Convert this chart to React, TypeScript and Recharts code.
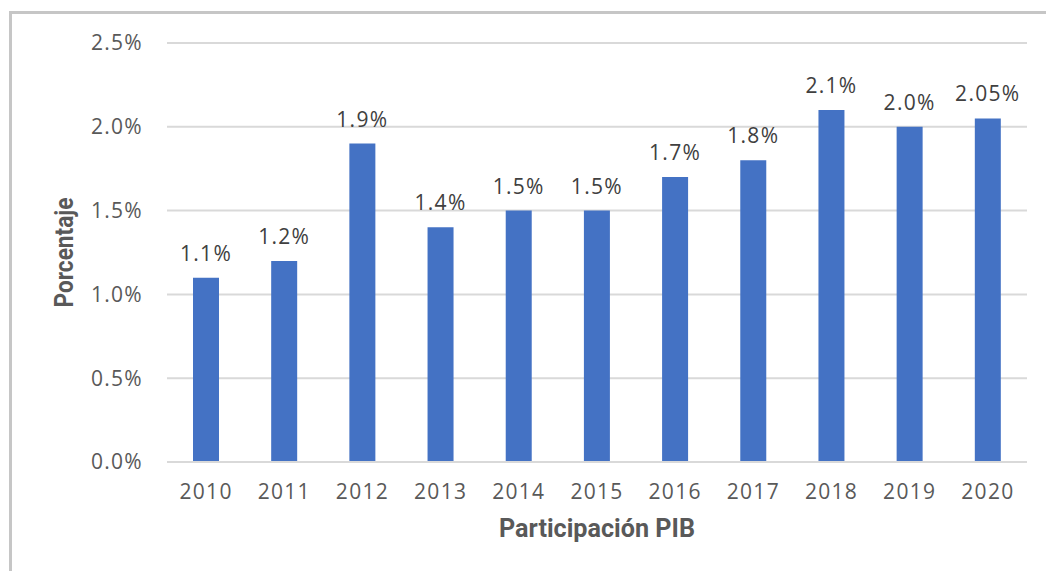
import React from 'react';
import { BarChart, Bar, XAxis, YAxis, CartesianGrid, LabelList, Label } from 'recharts';

const years = ['2010', '2011', '2012', '2013', '2014', '2015', '2016', '2017', '2018', '2019', '2020'];
const shares = [1.1, 1.2, 1.9, 1.4, 1.5, 1.5, 1.7, 1.8, 2.1, 2.0, 2.05];
const shareLabels = ['1.1%', '1.2%', '1.9%', '1.4%', '1.5%', '1.5%', '1.7%', '1.8%', '2.1%', '2.0%', '2.05%'];
const yTicks = [0, 0.5, 1.0, 1.5, 2.0, 2.5];

const data = years.map((year, i) => ({ year, value: shares[i], label: shareLabels[i] }));

const tickFont = { fill: '#595959', fontSize: 21, letterSpacing: 1.3, fontFamily: '"Open Sans", sans-serif' };
const titleFont = { fill: '#595959', fontSize: 26, fontWeight: 700, fontFamily: 'Roboto, sans-serif' };

// condensed bold titles, squeezed to the reference width
const XTitle = (props: any) => {
    const { viewBox } = props;
    const cx = viewBox.x + viewBox.width / 2;
    return (
        <text x={cx} y={537} textAnchor="middle" textLength={196} lengthAdjust="spacingAndGlyphs" style={titleFont}>
            Participación PIB
        </text>
    );
};

const YTitle = (props: any) => {
    const { viewBox } = props;
    const cy = viewBox.y + viewBox.height / 2;
    return (
        <text
            x={73}
            y={cy}
            transform={`rotate(-90, 73, ${cy})`}
            textAnchor="middle"
            textLength={110}
            lengthAdjust="spacingAndGlyphs"
            style={titleFont}
        >
            Porcentaje
        </text>
    );
};

export default function App() {
    return (
        <div style={{ position: 'absolute', left: 0, top: 0, width: 1046, height: 571, background: '#fff' }}>
            <div
                style={{
                    position: 'absolute',
                    left: 9,
                    top: 11,
                    right: 0,
                    bottom: 0,
                    borderTop: '3px solid #c6c6c6',
                    borderLeft: '3px solid #c6c6c6',
                }}
            />
            <div style={{ position: 'absolute', left: 0, top: 0 }}>
                <BarChart width={1046} height={571} data={data} margin={{ top: 43, right: 19, bottom: 0, left: 87 }}>
                    <CartesianGrid vertical={false} stroke="#d9d9d9" strokeWidth={2} />
                    <XAxis
                        dataKey="year"
                        axisLine={{ stroke: '#d9d9d9', strokeWidth: 2 }}
                        tickLine={false}
                        tickSize={0}
                        tickMargin={22}
                        tick={tickFont}
                        height={109}
                    >
                        <Label content={<XTitle />} />
                    </XAxis>
                    <YAxis
                        width={80}
                        domain={[0, 2.5]}
                        ticks={yTicks}
                        axisLine={false}
                        tickLine={false}
                        tickSize={0}
                        tickMargin={24}
                        tick={tickFont}
                        tickFormatter={(v: number) => v.toFixed(1) + '%'}
                    >
                        <Label content={<YTitle />} />
                    </YAxis>
                    <Bar dataKey="value" fill="#4472c4" barSize={26} isAnimationActive={false}>
                        <LabelList dataKey="label" position="top" offset={17} style={{ ...tickFont, fill: '#404040' }} />
                    </Bar>
                </BarChart>
            </div>
        </div>
    );
}
